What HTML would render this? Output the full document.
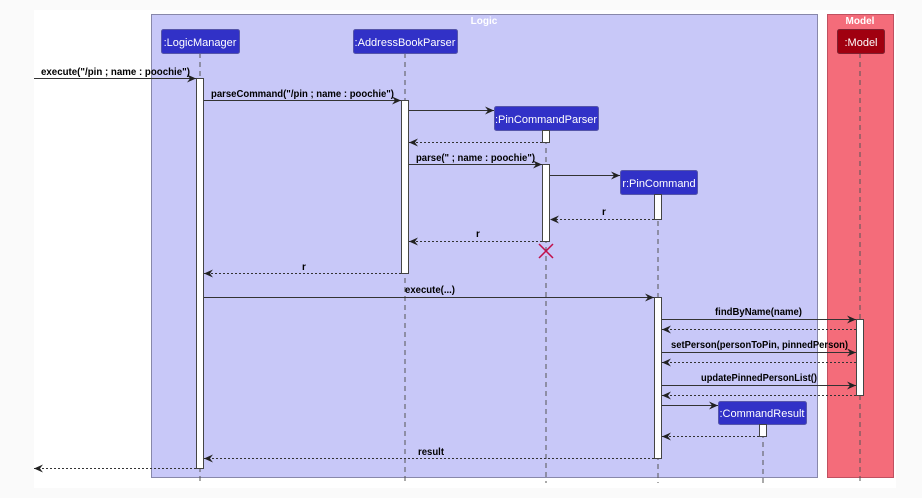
<!DOCTYPE html>
<html><head><meta charset="utf-8"><style>
html,body{margin:0;padding:0;background:#fafafa;}
svg{display:block;font-family:"Liberation Sans",Arial,sans-serif;}
.m{font-size:10px;font-weight:bold;fill:#000;}
.h{font-size:11px;fill:#fff;}
.ll{stroke:#555;stroke-width:1;stroke-dasharray:5,4;}
.s{stroke:#333;stroke-width:1;fill:none;}
.d{stroke:#333;stroke-width:1;fill:none;stroke-dasharray:2,2;}
.act{fill:#fff;stroke:#444;stroke-width:1;}
</style></head><body>
<svg width="922" height="498" viewBox="0 0 922 498" xmlns="http://www.w3.org/2000/svg">
<defs>
<marker id="a" markerWidth="10" markerHeight="8" refX="9" refY="4" orient="auto" markerUnits="userSpaceOnUse"><path d="M0,0 L9,4 L0,8 L3,4 Z" fill="#222"/></marker>
</defs>
<rect x="34" y="10" width="862" height="478" fill="#ffffff"/>
<rect x="151.5" y="14.5" width="666" height="463" fill="#c8c8f8" stroke="#8888aa"/>
<text x="484" y="24" class="m" style="fill:#fff" text-anchor="middle">Logic</text>
<rect x="827.5" y="14.5" width="66" height="463" fill="#f46c7a" stroke="#c05060"/>
<text x="860" y="24" class="m" style="fill:#fff" text-anchor="middle">Model</text>
<line class="ll" x1="200" y1="53" x2="200" y2="483"/>
<line class="ll" x1="405" y1="53" x2="405" y2="483"/>
<line class="ll" x1="546" y1="130" x2="546" y2="483"/>
<line class="ll" x1="658" y1="194" x2="658" y2="483"/>
<line class="ll" x1="763" y1="424" x2="763" y2="483"/>
<line class="ll" x1="860" y1="53" x2="860" y2="483"/>
<rect x="161.5" y="29.5" width="78" height="24" rx="2" fill="#3131c7" stroke="#5555aa"/>
<text x="200" y="46" class="h" text-anchor="middle">:LogicManager</text>
<rect x="353.5" y="29.5" width="104" height="24" rx="2" fill="#3131c7" stroke="#5555aa"/>
<text x="405" y="46" class="h" text-anchor="middle">:AddressBookParser</text>
<rect x="837.5" y="29.5" width="47" height="24" rx="2" fill="#a00010" stroke="#802030"/>
<text x="861" y="46" class="h" text-anchor="middle">:Model</text>
<rect x="494.5" y="106.5" width="104" height="24" rx="2" fill="#3131c7" stroke="#5555aa"/>
<text x="546" y="123" class="h" text-anchor="middle">:PinCommandParser</text>
<rect x="620.5" y="170.5" width="77" height="24" rx="2" fill="#3131c7" stroke="#5555aa"/>
<text x="659" y="187" class="h" text-anchor="middle">r:PinCommand</text>
<rect x="718.5" y="401.5" width="88" height="23" rx="2" fill="#3131c7" stroke="#5555aa"/>
<text x="762" y="417" class="h" text-anchor="middle">:CommandResult</text>
<rect class="act" x="196.5" y="78.5" width="7" height="390"/>
<rect class="act" x="401.5" y="100.5" width="7" height="173"/>
<rect class="act" x="542.5" y="130.5" width="7" height="12"/>
<rect class="act" x="542.5" y="164.5" width="7" height="77"/>
<rect class="act" x="654.5" y="194.5" width="7" height="25"/>
<rect class="act" x="654.5" y="297.5" width="7" height="161"/>
<rect class="act" x="856.5" y="319.5" width="7" height="76"/>
<rect class="act" x="759.5" y="424.5" width="7" height="12"/>
<line class="s" x1="34" y1="78.5" x2="196" y2="78.5" marker-end="url(#a)"/>
<text x="41" y="75" class="m" textLength="149" lengthAdjust="spacingAndGlyphs">execute("/pin ; name : poochie")</text>
<line class="s" x1="204" y1="100.5" x2="401" y2="100.5" marker-end="url(#a)"/>
<text x="211" y="97" class="m" textLength="183" lengthAdjust="spacingAndGlyphs">parseCommand("/pin ; name : poochie")</text>
<line class="s" x1="409" y1="110.5" x2="494" y2="110.5" marker-end="url(#a)"/>
<line class="d" x1="542" y1="142.5" x2="409" y2="142.5" marker-end="url(#a)"/>
<line class="s" x1="409" y1="164.5" x2="542" y2="164.5" marker-end="url(#a)"/>
<text x="416" y="161" class="m" textLength="119" lengthAdjust="spacingAndGlyphs">parse(" ; name : poochie")</text>
<line class="s" x1="550" y1="175.5" x2="620" y2="175.5" marker-end="url(#a)"/>
<line class="d" x1="654" y1="219.5" x2="550" y2="219.5" marker-end="url(#a)"/>
<text x="602" y="215" class="m">r</text>
<line class="d" x1="542" y1="241.5" x2="409" y2="241.5" marker-end="url(#a)"/>
<text x="476" y="237" class="m">r</text>
<path d="M539,244 L553,258 M553,244 L539,258" stroke="#c0104a" stroke-width="1.5"/>
<line class="d" x1="401" y1="273.5" x2="204" y2="273.5" marker-end="url(#a)"/>
<text x="302" y="270" class="m">r</text>
<line class="s" x1="204" y1="297.5" x2="654" y2="297.5" marker-end="url(#a)"/>
<text x="405" y="293" class="m" textLength="50" lengthAdjust="spacingAndGlyphs">execute(...)</text>
<line class="s" x1="662" y1="319.5" x2="856" y2="319.5" marker-end="url(#a)"/>
<text x="715" y="315" class="m" textLength="87" lengthAdjust="spacingAndGlyphs">findByName(name)</text>
<line class="d" x1="856" y1="329.5" x2="662" y2="329.5" marker-end="url(#a)"/>
<line class="s" x1="662" y1="352.5" x2="856" y2="352.5" marker-end="url(#a)"/>
<text x="671" y="348" class="m" textLength="177" lengthAdjust="spacingAndGlyphs">setPerson(personToPin, pinnedPerson)</text>
<line class="d" x1="856" y1="362.5" x2="662" y2="362.5" marker-end="url(#a)"/>
<line class="s" x1="662" y1="385.5" x2="856" y2="385.5" marker-end="url(#a)"/>
<text x="701" y="381" class="m" textLength="116" lengthAdjust="spacingAndGlyphs">updatePinnedPersonList()</text>
<line class="d" x1="856" y1="395.5" x2="662" y2="395.5" marker-end="url(#a)"/>
<line class="s" x1="662" y1="405.5" x2="718" y2="405.5" marker-end="url(#a)"/>
<line class="d" x1="759" y1="436.5" x2="662" y2="436.5" marker-end="url(#a)"/>
<line class="d" x1="654" y1="458.5" x2="204" y2="458.5" marker-end="url(#a)"/>
<text x="418" y="455" class="m" textLength="26" lengthAdjust="spacingAndGlyphs">result</text>
<line class="d" x1="196" y1="468.5" x2="34" y2="468.5" marker-end="url(#a)"/>
</svg>
</body></html>
